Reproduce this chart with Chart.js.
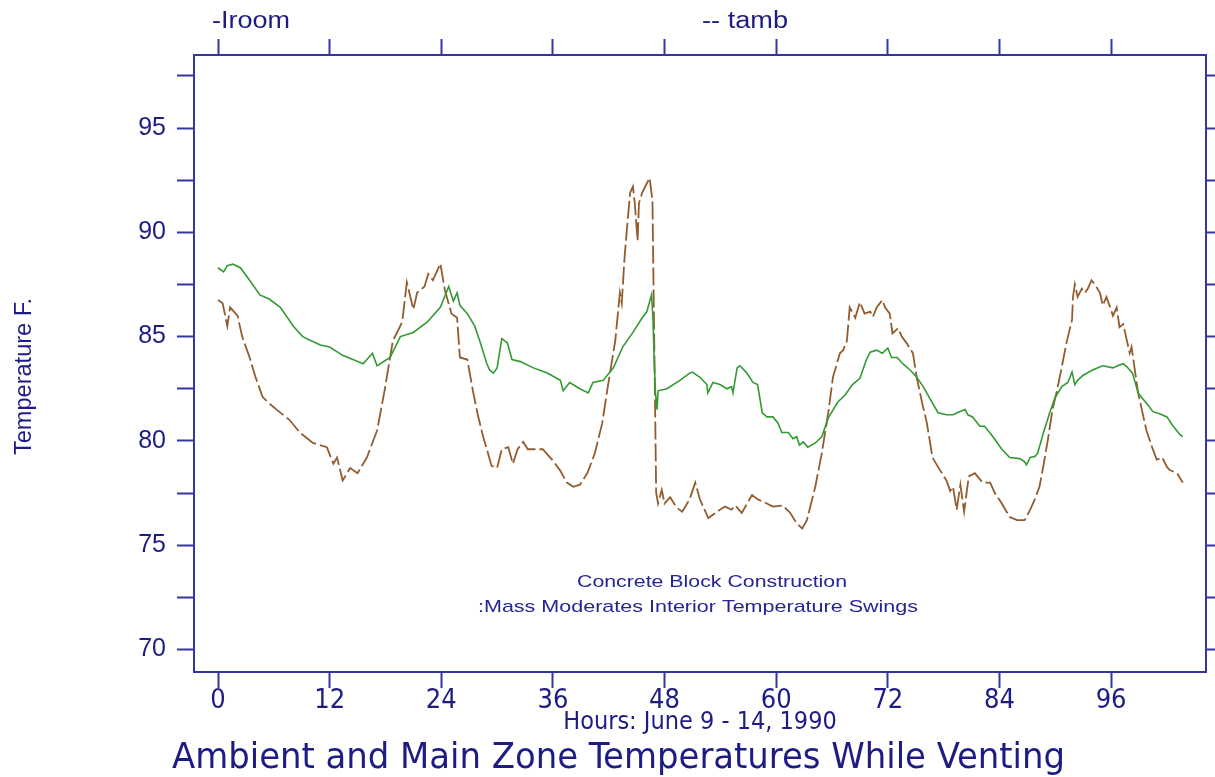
<!DOCTYPE html>
<html>
<head>
<meta charset="utf-8">
<script src="https://cdn.jsdelivr.net/npm/chart.js@4/dist/chart.umd.min.js"></script>
<style>
  html, body { margin: 0; padding: 0; background: #ffffff; }
  #wrap { position: relative; width: 1215px; height: 777px; }
  canvas { display: block; }
</style>
</head>
<body>
<div id="wrap"><canvas id="c" width="1215" height="777"></canvas></div>
<script>
// Tick positions
const hourTicks = [0, 12, 24, 36, 48, 60, 72, 84, 96];
const tempTicks = [70, 72.5, 75, 77.5, 80, 82.5, 85, 87.5, 90, 92.5, 95, 97.5];

// Main zone (room) temperature, deg F, by hour
const roomHours = [0.0, 0.6, 1.0, 1.6, 2.4, 3.4, 4.5, 5.5, 6.7, 8.1, 9.1, 10.0, 11.0, 12.0, 13.4, 14.5, 15.6, 16.6, 17.1, 18.5,
  19.6, 21.0, 22.5, 23.9, 24.8, 25.3, 25.7, 26.0, 26.8, 27.6, 28.2, 28.9, 29.2, 29.6, 30.0, 30.5, 31.1, 31.6, 32.5, 33.9,
  35.4, 36.8, 37.1, 37.8, 38.9, 39.8, 40.3, 41.4, 42.5, 43.5, 44.6, 45.6, 46.1, 46.6, 46.75, 47.0, 47.2, 47.3, 48.25, 49.65,
  50.7, 51.0, 51.8, 52.55, 52.65, 53.2, 53.95, 54.7, 55.2, 55.35, 55.8, 56.1, 56.85, 57.5, 58.0, 58.5, 59.0, 59.65, 60.2, 60.6,
  61.3, 61.8, 62.2, 62.5, 62.9, 63.4, 64.2, 64.9, 65.6, 66.6, 67.4, 68.2, 69.0, 69.7, 70.1, 70.8, 71.4, 72.0, 72.4, 73.0,
  73.6, 74.4, 75.1, 75.8, 76.5, 77.4, 78.3, 79.0, 79.7, 80.3, 80.6, 81.1, 81.9, 82.4, 83.3, 84.25, 85.1, 86.2, 86.7, 86.9,
  87.3, 87.8, 88.1, 88.7, 89.4, 89.95, 90.7, 91.35, 91.8, 92.1, 92.4, 93.0, 94.0, 95.1, 96.2, 96.7, 97.3, 97.7, 98.3, 98.9,
  99.8, 100.5, 101.2, 102.0, 102.6, 103.4, 103.7];
const roomTemp = [88.3, 88.1, 88.4, 88.47, 88.3, 87.7, 87.0, 86.8, 86.4, 85.5, 85.0, 84.8, 84.6, 84.5, 84.1, 83.9, 83.7, 84.2, 83.6, 84.0,
  85.0, 85.2, 85.7, 86.4, 87.4, 86.7, 87.1, 86.5, 86.1, 85.5, 84.7, 83.7, 83.4, 83.25, 83.5, 84.9, 84.7, 83.9, 83.8, 83.5,
  83.25, 82.9, 82.4, 82.8, 82.5, 82.3, 82.8, 82.9, 83.5, 84.5, 85.2, 85.9, 86.2, 87.0, 85.9, 82.4, 81.5, 82.4, 82.5, 82.9,
  83.25, 83.3, 83.05, 82.7, 82.3, 82.8, 82.7, 82.5, 82.6, 82.3, 83.5, 83.6, 83.25, 82.8, 82.7, 81.35, 81.15, 81.15, 80.85, 80.4,
  80.4, 80.1, 80.2, 79.8, 79.95, 79.7, 79.9, 80.2, 81.1, 81.85, 82.2, 82.7, 83.0, 83.9, 84.25, 84.35, 84.2, 84.45, 84.0, 84.0,
  83.7, 83.4, 83.05, 82.6, 82.05, 81.35, 81.25, 81.25, 81.4, 81.5, 81.25, 81.15, 80.7, 80.7, 80.2, 79.6, 79.2, 79.15, 79.0, 78.85,
  79.2, 79.25, 79.4, 80.35, 81.35, 82.05, 82.6, 82.8, 83.3, 82.7, 82.9, 83.15, 83.4, 83.6, 83.5, 83.6, 83.7, 83.55, 83.25, 82.3,
  81.8, 81.4, 81.3, 81.15, 80.75, 80.3, 80.2];

// Ambient temperature, deg F, by hour
const ambHours = [0.0, 0.5, 1.0, 1.3, 2.1, 2.6, 3.4, 4.0, 4.8, 5.5, 6.3, 7.7, 8.8, 10.2, 11.7, 12.4, 12.8, 13.4, 14.2, 15.0,
  16.0, 17.1, 17.9, 18.8, 19.8, 20.3, 21.0, 21.4, 22.2, 22.6, 23.1, 23.9, 24.4, 25.1, 25.7, 26.0, 26.8, 27.4, 27.9, 28.5,
  28.9, 29.4, 30.0, 30.5, 31.2, 31.7, 32.2, 32.8, 33.3, 34.3, 34.9, 35.9, 36.75, 37.5, 38.2, 38.9, 39.7, 40.5, 41.3, 41.9,
  42.7, 43.2, 43.4, 43.7, 44.1, 44.3, 44.6, 44.8, 45.1, 45.25, 45.6, 46.1, 46.4, 46.7, 47.1, 47.3, 47.7, 48.0, 48.6, 49.3,
  49.9, 50.7, 51.3, 51.8, 52.7, 53.95, 54.5, 55.2, 55.6, 56.3, 57.4, 58.0, 59.0, 59.65, 60.7, 61.5, 62.2, 62.8, 63.3, 64.2,
  64.9, 65.6, 66.1, 66.85, 67.2, 67.6, 67.9, 68.5, 69.0, 69.5, 70.1, 70.4, 70.8, 71.4, 71.7, 72.2, 72.5, 73.1, 73.5, 74.0,
  74.7, 75.1, 75.7, 76.2, 76.8, 77.6, 78.3, 78.7, 79.0, 79.4, 79.8, 80.2, 80.7, 81.35, 82.2, 83.0, 83.5, 84.25, 85.1, 85.9,
  86.7, 87.3, 87.8, 88.3, 88.7, 89.2, 89.7, 90.2, 90.7, 91.2, 91.8, 91.9, 92.1, 92.4, 92.85, 93.2, 93.5, 93.9, 94.25, 94.8,
  95.1, 95.5, 95.9, 96.2, 96.6, 96.9, 97.3, 97.7, 98.0, 98.2, 98.55, 98.9, 99.3, 99.8, 100.4, 100.9, 101.5, 102.0, 102.3, 103.1,
  103.7];
const ambTemp = [86.75, 86.6, 85.5, 86.4, 86.0, 85.0, 84.0, 83.1, 82.1, 81.8, 81.5, 81.0, 80.4, 79.9, 79.7, 78.9, 79.2, 78.1, 78.7, 78.45,
  79.2, 80.5, 82.4, 84.8, 85.7, 87.6, 86.3, 87.1, 87.4, 88.0, 87.7, 88.5, 87.2, 86.1, 85.9, 84.0, 83.9, 82.4, 81.3, 80.2,
  79.6, 78.8, 78.7, 79.6, 79.7, 78.9, 79.6, 79.95, 79.6, 79.6, 79.6, 79.1, 78.6, 78.0, 77.8, 77.9, 78.45, 79.4, 80.85, 82.6,
  84.8, 87.1, 86.6, 88.8, 90.9, 91.9, 92.2, 91.4, 89.6, 91.4, 91.9, 92.35, 92.6, 91.5, 77.5, 77.0, 77.65, 77.0, 77.3, 76.8,
  76.6, 77.2, 78.0, 77.2, 76.3, 76.7, 76.85, 76.7, 76.9, 76.55, 77.4, 77.2, 77.0, 76.85, 76.9, 76.55, 76.05, 75.8, 76.2, 77.8,
  79.4, 81.35, 83.05, 84.2, 84.35, 84.8, 86.4, 85.9, 86.65, 86.1, 86.2, 85.95, 86.4, 86.75, 86.4, 86.1, 85.15, 85.4, 85.0, 84.7,
  84.2, 83.05, 81.8, 80.85, 79.2, 78.6, 78.1, 77.6, 77.8, 76.7, 77.9, 76.6, 78.3, 78.45, 78.0, 78.0, 77.5, 77.0, 76.35, 76.2,
  76.2, 76.7, 77.2, 77.8, 78.75, 80.05, 81.5, 82.45, 83.55, 84.7, 85.8, 86.9, 87.5, 86.9, 87.3, 87.1, 87.3, 87.7, 87.5, 87.1,
  86.5, 86.9, 86.4, 86.0, 86.4, 85.45, 85.6, 84.8, 84.2, 84.5, 83.4, 82.3, 81.5, 80.5, 79.7, 79.1, 79.2, 78.75, 78.6, 78.45,
  78.0];

const titleText = 'Ambient and Main Zone Temperatures While Venting';
const xTitleText = 'Hours: June 9 - 14, 1990';
const yTitleText = 'Temperature F.';
const noteLines = ['Concrete Block Construction', ':Mass Moderates Interior Temperature Swings'];
const legendItems = ['-Iroom', '-- tamb'];

const axisColor = '#3434a4';
const textColor = '#1c1c84';

// pick a condensed face when one is installed
function hasFont(name) {
  const c = document.createElement('canvas').getContext('2d');
  const s = '0123456789 Hours: June';
  c.font = '40px monospace';
  const a = c.measureText(s).width;
  c.font = '40px "' + name + '", monospace';
  return Math.abs(c.measureText(s).width - a) > 0.5;
}
const narrow = hasFont('Liberation Sans Narrow') ? '"Liberation Sans Narrow"'
  : (hasFont('DejaVu Sans Condensed') ? '"DejaVu Sans Condensed"' : '"Liberation Sans"');
const sans = '"Liberation Sans", Arial, sans-serif';

// text stretched horizontally to a given width
function fitText(ctx, text, x, y, width, size, family, align) {
  ctx.save();
  ctx.font = size + 'px ' + family;
  const w = ctx.measureText(text).width;
  const sx = width / w;
  ctx.translate(x, y);
  ctx.scale(sx, 1);
  ctx.textAlign = align || 'left';
  ctx.fillText(text, 0, 0);
  ctx.restore();
}

const textPlugin = {
  id: 'chartText',
  afterDraw(chart) {
    const ctx = chart.ctx;
    ctx.save();
    ctx.fillStyle = textColor;
    ctx.textBaseline = 'alphabetic';
    // series key along the top
    fitText(ctx, legendItems[0], 212, 28, 78, 23, sans);
    fitText(ctx, legendItems[1], 702, 28, 86, 23, sans);
    // vertical axis title
    ctx.save();
    ctx.translate(31, 455);
    ctx.rotate(-Math.PI / 2);
    fitText(ctx, yTitleText, 0, 0, 157, 23, sans);
    ctx.restore();
    // note inside the plot
    ctx.fillStyle = '#25259a';
    fitText(ctx, noteLines[0], 577, 587, 270, 17, sans);
    fitText(ctx, noteLines[1], 478, 612, 440, 17, sans);
    // chart title
    ctx.fillStyle = textColor;
    fitText(ctx, titleText, 172, 768, 893, 36, narrow);
    ctx.restore();
  }
};

const xCommon = {
  type: 'linear', min: -2.58, max: 106.2,
  afterBuildTicks: s => { s.ticks = hourTicks.map(v => ({ value: v })); },
  grid: { drawOnChartArea: false, drawTicks: true, tickLength: 16, tickColor: axisColor, tickWidth: 2 },
  border: { display: true, color: axisColor, width: 2 }
};
const yCommon = {
  type: 'linear', min: 68.92, max: 98.5,
  afterBuildTicks: s => { s.ticks = tempTicks.map(v => ({ value: v })); },
  border: { display: true, color: axisColor, width: 2 }
};

new Chart(document.getElementById('c'), {
  type: 'line',
  data: {
    datasets: [
      {
        label: 'Iroom', xAxisID: 'x', yAxisID: 'y',
        data: roomHours.map((h, i) => ({ x: h, y: roomTemp[i] })),
        borderColor: '#339a33', borderWidth: 1.6, pointRadius: 0, tension: 0, fill: false
      },
      {
        label: 'tamb', xAxisID: 'x', yAxisID: 'y',
        data: ambHours.map((h, i) => ({ x: h, y: ambTemp[i] })),
        borderColor: '#935c2e', borderWidth: 1.8, borderDash: [18, 4], pointRadius: 0, tension: 0, fill: false
      }
    ]
  },
  options: {
    responsive: false, animation: false, devicePixelRatio: 1,
    layout: { padding: 0 },
    plugins: { legend: { display: false }, tooltip: { enabled: false }, title: { display: false } },
    scales: {
      x: Object.assign({}, xCommon, {
        position: 'bottom',
        afterFit: s => { s.height = 105; },
        ticks: { color: textColor, font: { family: narrow, size: 27 }, padding: -3, maxRotation: 0, autoSkip: false },
        title: { display: true, text: xTitleText, color: textColor, font: { family: narrow, size: 25 }, padding: { top: 0, bottom: 40 } }
      }),
      x2: Object.assign({}, xCommon, {
        position: 'top',
        afterFit: s => { s.height = 55; },
        ticks: { display: false }
      }),
      y: Object.assign({}, yCommon, {
        position: 'left',
        afterFit: s => { s.width = 194; },
        grid: { drawOnChartArea: false, drawTicks: true, tickLength: 17, tickColor: axisColor, tickWidth: 2 },
        ticks: {
          color: textColor, font: { family: sans, size: 25 }, padding: 11, autoSkip: false,
          callback: v => (v % 5 === 0 ? String(v) : '')
        }
      }),
      y2: Object.assign({}, yCommon, {
        position: 'right',
        afterFit: s => { s.width = 9; },
        grid: { drawOnChartArea: false, drawTicks: true, tickLength: 9, tickColor: axisColor, tickWidth: 2 },
        ticks: { display: false }
      })
    }
  },
  plugins: [textPlugin]
});
</script>
</body>
</html>
